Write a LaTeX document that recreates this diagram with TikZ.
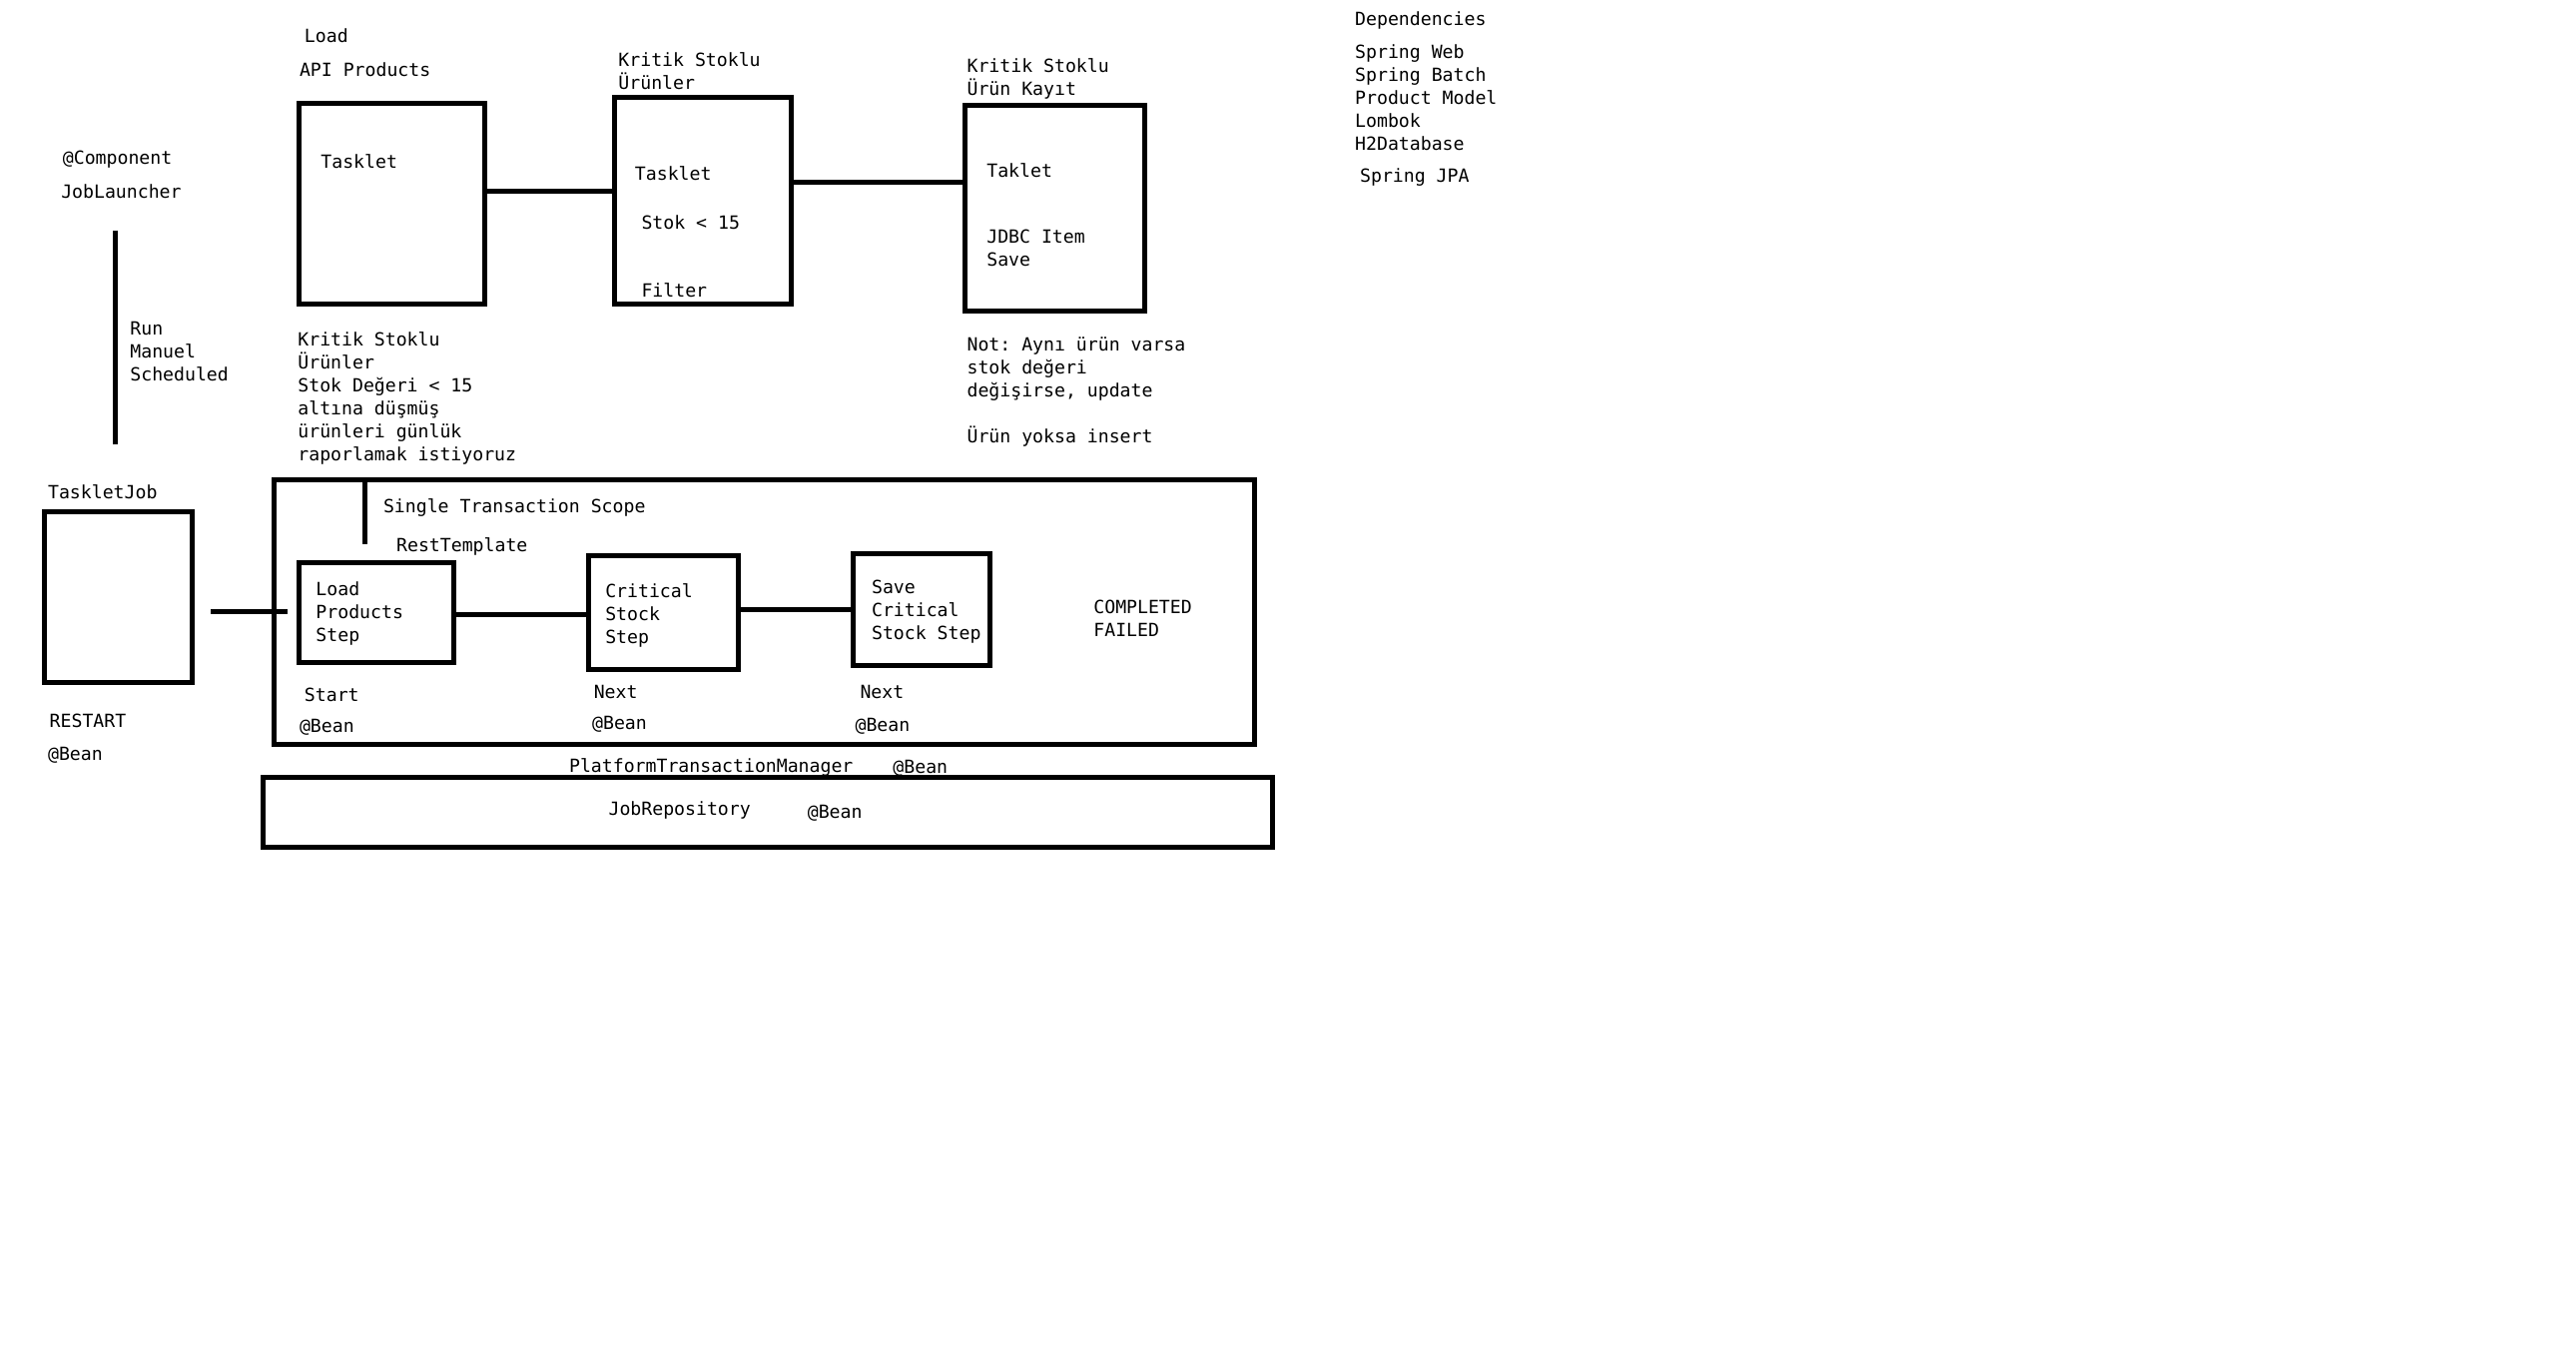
\documentclass[tikz,border=0pt]{standalone}
\usepackage{fontspec}
\setmonofont{DejaVu Sans Mono}
\usetikzlibrary{fit}
\tikzset{
  txt/.style={anchor=north west, inner sep=0pt, yshift=4.3pt, align=left,
    font=\ttfamily\fontsize{10.9}{13.8}\selectfont, execute at begin node=\strut},
  box/.style={draw, line width=3pt, inner sep=0pt},
  conn/.style={line width=3pt}
}
\begin{document}
\begin{tikzpicture}[x=0.988pt,y=-0.988pt]
\useasboundingbox[fill=white] (0,0) rectangle (1566.8,833.0);

% ---- top row boxes
\node[box, fit={(182,63) (295,185)}] (b1) {};
\node[box, fit={(374,59) (481,185)}] (b2) {};
\node[box, fit={(587,64) (696,189)}] (b3) {};
\draw[conn] (b1.east |- 0,116) -- (b2.west |- 0,116);
\draw[conn] (b2.east |- 0,111) -- (b3.west |- 0,111);

\node[txt] (tLoad) at (185,20) {Load};
\node[txt] (tApi) at (182,41) {API Products};
\node[txt] (tTask1) at (195,97) {Tasklet};
\node[txt] (tKrit1) at (376,36) {Kritik Stoklu\\Ürünler};
\node[txt] (tTask2) at (386,104) {Tasklet};
\node[txt] (tStok) at (390,134) {Stok < 15};
\node[txt] (tFilter) at (390,175) {Filter};
\node[txt] (tKrit2) at (588,40) {Kritik Stoklu\\Ürün Kayıt};
\node[txt] (tTaklet) at (600,102) {Taklet};
\node[txt] (tJdbc) at (600,144) {JDBC Item\\Save};

% ---- dependencies
\node[txt] (tDep) at (824,10) {Dependencies};
\node[txt] (tDepList) at (824,31) {Spring Web\\Spring Batch\\Product Model\\Lombok\\H2Database};
\node[txt] (tJpa) at (827,105) {Spring JPA};

% ---- launcher
\node[txt] (tComp) at (38,94) {@Component};
\node[txt] (tJL) at (37,115) {JobLauncher};
\coordinate (v1) at (70,140);
\coordinate (v2) at (70,270);
\draw[conn] (v1) -- (v2);
\node[txt] (tRun) at (79,200) {Run\\Manuel\\Scheduled};

% ---- notes
\node[txt] (tNote1) at (181,206) {Kritik Stoklu\\Ürünler\\Stok Değeri < 15\\altına düşmüş\\ürünleri günlük\\raporlamak istiyoruz};
\node[txt] (tNote2) at (588,209) {Not: Aynı ürün varsa\\stok değeri\\değişirse, update\\[13.8pt]Ürün yoksa insert};

% ---- job
\node[txt] (tTJ) at (29,298) {TaskletJob};
\node[box, fit={(27,311) (117,415)}] (tj) {};
\node[txt] (tRestart) at (30,437) {RESTART};
\node[txt] (tBean0) at (29,457) {@Bean};

% ---- transaction scope
\node[box, fit={(167,292) (763,453)}] (big) {};
\coordinate (r1) at (222,331);
\draw[conn] (big.north -| r1) -- (r1);
\node[txt] (tScope) at (233,306) {Single Transaction Scope};
\node[txt] (tRest) at (241,330) {RestTemplate};

\node[box, fit={(182,342) (276,403)}] (lp) {};
\node[box, fit={(358,338) (449,407)}] (cs) {};
\node[box, fit={(519,337) (602,405)}] (sv) {};
\coordinate (j1) at (128,372);
\coordinate (j2) at (175,372);
\draw[conn] (j1) -- (j2);
\draw[conn] (lp.east |- 0,374) -- (cs.west |- 0,374);
\draw[conn] (cs.east |- 0,371) -- (sv.west |- 0,371);

\node[txt] (tLP) at (192,358) {Load\\Products\\Step};
\node[txt] (tCS) at (368,359) {Critical\\Stock\\Step};
\node[txt] (tSV) at (530,357) {Save\\Critical\\Stock Step};
\node[txt] (tStat) at (665,369) {COMPLETED\\FAILED};

\node[txt] (tStart) at (185,421) {Start};
\node[txt] (tBean1) at (182,440) {@Bean};
\node[txt] (tNext1) at (361,419) {Next};
\node[txt] (tBean2) at (360,438) {@Bean};
\node[txt] (tNext2) at (523,419) {Next};
\node[txt] (tBean3) at (520,439) {@Bean};

% ---- transaction manager & repository
\node[txt] (tPTM) at (346,464) {PlatformTransactionManager};
\node[txt] (tBean4) at (543,465) {@Bean};
\node[box, fit={(160,473) (774,515)}] (repo) {};
\node[txt] (tRepo) at (370,490) {JobRepository};
\node[txt] (tBean5) at (491,492) {@Bean};
\end{tikzpicture}
\end{document}
